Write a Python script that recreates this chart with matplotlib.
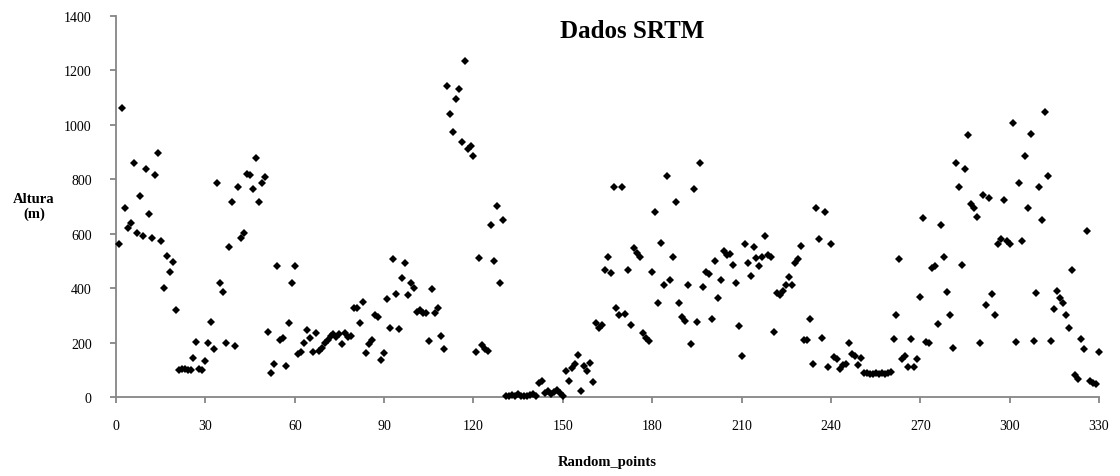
import matplotlib
matplotlib.use("Agg")
import matplotlib.pyplot as plt

# Elevation values (m) for Random_points 1..330
altura = [
    563, 1062, 692, 622, 640, 857, 601, 738, 591, 838,      # 1-10
    671, 584, 816, 895, 573, 401, 518, 459, 496, 318,       # 11-20
    100, 104, 104, 100, 98, 142, 202, 102, 100, 132,        # 21-30
    197, 275, 175, 785, 417, 386, 200, 551, 714, 187,       # 31-40
    772, 585, 601, 818, 815, 763, 876, 714, 785, 808,       # 41-50
    240, 89, 120, 479, 209, 218, 114, 273, 417, 479,        # 51-60
    157, 165, 200, 246, 218, 165, 236, 170, 180, 200,       # 61-70
    210, 225, 230, 220, 230, 195, 235, 220, 225, 325,       # 71-80
    325, 270, 350, 160, 195, 210, 300, 295, 136, 163,       # 81-90
    359, 255, 506, 379, 248, 435, 491, 373, 417, 401,       # 91-100
    312, 320, 307, 307, 206, 395, 310, 328, 224, 177,       # 101-110
    1142, 1038, 974, 1093, 1132, 934, 1234, 909, 922, 885,  # 111-120
    165, 510, 190, 175, 170, 630, 500, 700, 420, 650,       # 121-130
    5, 4, 8, 5, 10, 5, 4, 2, 6, 10,                         # 131-140
    5, 52, 58, 15, 22, 10, 20, 25, 15, 5,                   # 141-150
    95, 60, 105, 120, 155, 22, 115, 95, 125, 55,            # 151-160
    270, 255, 265, 465, 515, 455, 770, 325, 300, 770,       # 161-170
    305, 465, 265, 545, 530, 515, 235, 215, 205, 460,       # 171-180
    680, 345, 565, 410, 810, 430, 515, 715, 345, 295,       # 181-190
    280, 410, 195, 765, 275, 860, 405, 460, 450, 285,       # 191-200
    500, 365, 430, 535, 520, 525, 485, 420, 260, 150,       # 201-210
    560, 490, 445, 550, 510, 480, 515, 590, 520, 515,       # 211-220
    240, 380, 375, 390, 410, 440, 410, 490, 505, 555,       # 221-230
    210, 210, 285, 120, 695, 580, 215, 680, 110, 560,       # 231-240
    148, 141, 104, 116, 120, 200, 157, 150, 116, 144,       # 241-250
    89, 88, 86, 86, 87, 86, 88, 86, 88, 90,                 # 251-260
    212, 300, 508, 141, 150, 111, 212, 111, 138, 368,       # 261-270
    658, 202, 200, 475, 481, 267, 630, 515, 386, 300,       # 271-280
    181, 860, 769, 485, 838, 961, 708, 692, 662, 200,       # 281-290
    741, 337, 732, 379, 300, 561, 581, 723, 573, 561,       # 291-300
    1005, 202, 785, 573, 883, 695, 965, 206, 383, 769,      # 301-310
    650, 1047, 812, 206, 322, 389, 365, 344, 300, 252,      # 311-320
    465, 80, 67, 212, 175, 610, 59, 53, 47, 165,            # 321-330
]
pontos = list(range(1, len(altura) + 1))

x_ticks = list(range(0, 331, 30))
y_ticks = list(range(0, 1401, 200))

title_text = "Dados SRTM"
x_label = "Random_points"
y_label = "Altura\n(m)"

plt.rcParams['font.family'] = ['Liberation Serif', 'DejaVu Serif']

fig = plt.figure(figsize=(11.2, 4.77), dpi=100)
ax = fig.add_axes([0.1036, 0.1656, 0.8777, 0.7998])

ax.plot(pontos, altura, linestyle='none', marker='D', markersize=4.5,
        color='black', markeredgewidth=0, clip_on=False, zorder=3)

ax.set_xlim(0, 330)
ax.set_ylim(0, 1400)
ax.set_xticks(x_ticks)
ax.set_yticks(y_ticks)

axis_gray = '#868686'
for side in ['top', 'right']:
    ax.spines[side].set_visible(False)
for side in ['left', 'bottom']:
    ax.spines[side].set_color(axis_gray)
    ax.spines[side].set_linewidth(1.3)

ax.tick_params(axis='x', direction='out', length=4, width=1.3, color=axis_gray,
               labelsize=10, pad=12, labelcolor='black')
ax.tick_params(axis='y', direction='out', length=4, width=1.3, color=axis_gray,
               labelsize=10, pad=13.5, labelcolor='black')

fig.text(0.5643, 0.935, title_text, ha='center', va='center',
         fontsize=18, fontweight='bold')
fig.text(0.5424, 0.030, x_label, ha='center', va='center',
         fontsize=10.5, fontweight='bold')
fig.text(0.0303, 0.566, y_label, ha='center', va='center',
         fontsize=10.5, fontweight='bold', linespacing=1.15)

fig.savefig('out.png', dpi=100)
